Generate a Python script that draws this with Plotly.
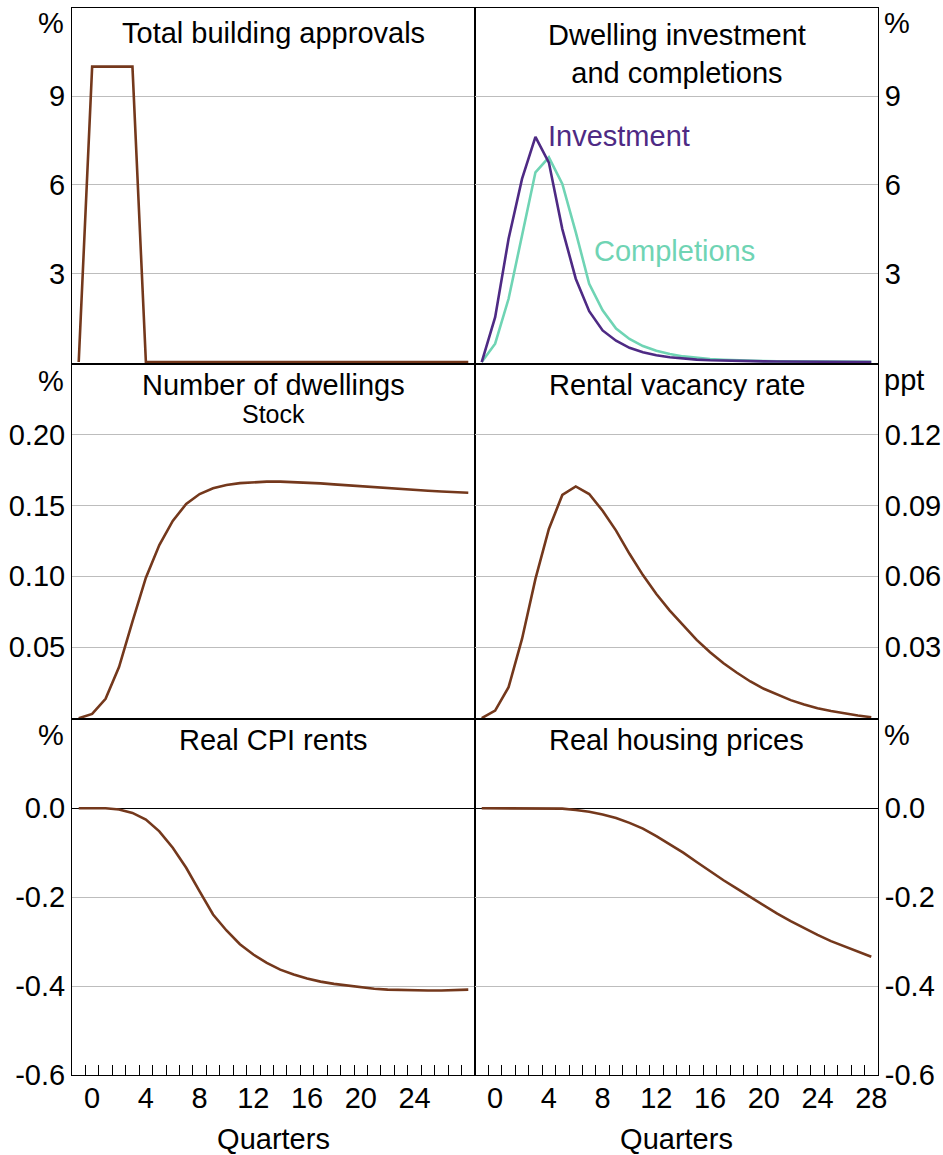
import plotly.graph_objects as go

# ---------------- data (quarters -1 .. 28) ----------------
quarters = list(range(-1, 29))

approvals = [0, 10, 10, 10, 10] + [0] * 25

investment = [0, 1.52, 4.17, 6.2, 7.62, 6.75, 4.5, 2.82, 1.72, 1.07, 0.72, 0.48, 0.33,
              0.23, 0.16, 0.11, 0.08, 0.06, 0.045, 0.035, 0.027, 0.021, 0.016, 0.013,
              0.01, 0.008, 0.006, 0.005, 0.004, 0.003]

completions = [0, 0.62, 2.14, 4.28, 6.42, 6.93, 6.03, 4.4, 2.65, 1.75, 1.13, 0.78, 0.54,
               0.38, 0.27, 0.19, 0.14, 0.1, 0.075, 0.055, 0.04, 0.03, 0.023, 0.017,
               0.013, 0.01, 0.008, 0.006, 0.005, 0.004]

dwellings = [0, 0.003, 0.0136, 0.036, 0.068, 0.099, 0.122, 0.139, 0.151, 0.158, 0.162,
             0.1643, 0.1657, 0.1664, 0.1667, 0.1667, 0.1664, 0.166, 0.1655, 0.1648,
             0.1641, 0.1634, 0.1627, 0.162, 0.1615, 0.1608, 0.1603, 0.1598, 0.1594, 0.1589]

vacancy = [0, 0.0032, 0.0131, 0.0335, 0.0589, 0.080, 0.0944, 0.098, 0.0948, 0.0877,
           0.0793, 0.0695, 0.0605, 0.0525, 0.0455, 0.0392, 0.0331, 0.0279, 0.0232,
           0.0192, 0.0155, 0.0124, 0.0099, 0.0076, 0.0058, 0.0042, 0.003, 0.002,
           0.0011, 0.0004]

rents = [0, 0, 0, -0.003, -0.0105, -0.0255, -0.052, -0.089, -0.134, -0.187, -0.239,
         -0.275, -0.306, -0.329, -0.348, -0.363, -0.374, -0.383, -0.39, -0.395, -0.399,
         -0.403, -0.406, -0.408, -0.409, -0.41, -0.41, -0.41, -0.409, -0.408]

prices = [0, 0, 0, 0, 0, -0.0005, -0.001, -0.004, -0.008, -0.014, -0.022, -0.033,
          -0.046, -0.063, -0.082, -0.1, -0.121, -0.142, -0.162, -0.181, -0.2, -0.219,
          -0.237, -0.254, -0.27, -0.285, -0.299, -0.311, -0.323, -0.334]

x_labels_left = [0, 4, 8, 12, 16, 20, 24]
x_labels_right = [0, 4, 8, 12, 16, 20, 24, 28]
quarter_marks = [q + 0.5 for q in range(-1, 28)]

top_ticks = [3, 6, 9]
dwell_ticks = [0.05, 0.10, 0.15, 0.20]
vac_ticks = [0.03, 0.06, 0.09, 0.12]
bottom_ticks = [-0.6, -0.4, -0.2, 0.0]

# ---------------- styling ----------------
W, H = 943, 1155
FONT = "Arial, Liberation Sans, sans-serif"
FS = 29
BROWN = "#74381C"
PURPLE = "#4E2A84"
TEAL = "#6FD4B4"
GRID = "#BDBDBD"


def px_x(p):
    return p / W


def px_y(p):
    return 1 - p / H


xL = [px_x(72), px_x(475)]
xR = [px_x(475), px_x(878)]
rows = {
    "top": [px_y(363.5), px_y(7.5)],
    "mid": [px_y(719.3), px_y(363.5)],
    "bot": [px_y(1075), px_y(719.3)],
}

fig = go.Figure()

def add_line(x, y, color, idx):
    fig.add_trace(go.Scatter(x=x, y=y, mode="lines", line=dict(color=color, width=2.6),
                             xaxis="x" if idx == 1 else f"x{idx}",
                             yaxis="y" if idx == 1 else f"y{idx}",
                             showlegend=False, hoverinfo="skip"))

add_line(quarters, approvals, BROWN, 1)
add_line(quarters, completions, TEAL, 2)
add_line(quarters, investment, PURPLE, 2)
add_line(quarters, dwellings, BROWN, 3)
add_line(quarters, vacancy, BROWN, 4)
add_line(quarters, rents, BROWN, 5)
add_line(quarters, prices, BROWN, 6)

layout = dict(width=W, height=H, margin=dict(l=0, r=0, t=0, b=0, autoexpand=False),
              paper_bgcolor="white", plot_bgcolor="white",
              font=dict(family=FONT, size=FS, color="black"), showlegend=False)

panels = [
    (1, xL, "top", "left", [-0.05, 12], top_ticks, [str(v) for v in top_ticks]),
    (2, xR, "top", "right", [-0.05, 12], top_ticks, [str(v) for v in top_ticks]),
    (3, xL, "mid", "left", [-0.0008, 0.25], dwell_ticks, [f"{v:.2f}" for v in dwell_ticks]),
    (4, xR, "mid", "right", [-0.0005, 0.15], vac_ticks, [f"{v:.2f}" for v in vac_ticks]),
    (5, xL, "bot", "left", [-0.6, 0.2], bottom_ticks, [f"{v:.1f}" for v in bottom_ticks]),
    (6, xR, "bot", "right", [-0.6, 0.2], bottom_ticks, [f"{v:.1f}" for v in bottom_ticks]),
]

for idx, xd, row, side, yr, yt, ytt in panels:
    xname = "xaxis" if idx == 1 else f"xaxis{idx}"
    yname = "yaxis" if idx == 1 else f"yaxis{idx}"
    xa = dict(domain=xd, range=[-1.5, 28.5], anchor="y" if idx == 1 else f"y{idx}",
              showline=True, mirror=True, linecolor="black", linewidth=1,
              showgrid=False, zeroline=False, ticks="", fixedrange=True, automargin=False)
    if row == "bot":
        labs = x_labels_left if side == "left" else x_labels_right
        xa.update(tickmode="array", tickvals=labs, ticktext=[str(v) for v in labs],
                  showticklabels=True, ticklabelstandoff=-3,
                  tickfont=dict(size=FS),
                  minor=dict(tickmode="array", tickvals=quarter_marks, ticks="inside",
                             ticklen=10, tickwidth=1, tickcolor="black", showgrid=False),
                  title=dict(text="Quarters", font=dict(size=FS), standoff=24))
    else:
        xa.update(showticklabels=False)
    ya = dict(domain=rows[row], range=yr, anchor="x" if idx == 1 else f"x{idx}",
              side=side, showline=True, mirror=True, linecolor="black", linewidth=1,
              tickmode="array", tickvals=yt, ticktext=ytt, ticks="",
              ticklabelstandoff=0, tickfont=dict(size=FS),
              showgrid=True, gridcolor=GRID, gridwidth=1,
              zeroline=(row == "bot"), zerolinecolor="black", zerolinewidth=1,
              fixedrange=True, automargin=False)
    layout[xname] = xa
    layout[yname] = ya

fig.update_layout(**layout)

ann = []

def text_px(t, x, y, xanchor="center", size=FS, color="black"):
    ann.append(dict(text=t, x=px_x(x), y=px_y(y), xref="paper", yref="paper",
                    xanchor=xanchor, yanchor="middle", showarrow=False,
                    font=dict(size=size, color=color, family=FONT)))

# panel titles
text_px("Total building approvals", 273.5, 33)
text_px("Dwelling investment<br>and completions", 676.5, 54)
text_px("Number of dwellings", 273.5, 385)
text_px("Stock", 273.5, 414, size=25)
text_px("Rental vacancy rate", 676.5, 385)
text_px("Real CPI rents", 273.5, 740)
text_px("Real housing prices", 676.5, 740)

# unit labels
text_px("%", 66, 23, xanchor="right")
text_px("%", 882, 23, xanchor="left")
text_px("%", 66, 381, xanchor="right")
text_px("ppt", 882, 380, xanchor="left")
text_px("%", 66, 735, xanchor="right")
text_px("%", 882, 735, xanchor="left")

# series labels (data coordinates of the right-top panel)
ann.append(dict(text="Investment", x=3.8, y=7.66, xref="x2", yref="y2", xanchor="left",
                yanchor="middle", showarrow=False, font=dict(size=FS, color=PURPLE, family=FONT)))
ann.append(dict(text="Completions", x=7.2, y=3.75, xref="x2", yref="y2", xanchor="left",
                yanchor="middle", showarrow=False, font=dict(size=FS, color=TEAL, family=FONT)))

fig.update_layout(annotations=ann)

fig.write_html("out.html",
               config={"displayModeBar": False},
               post_script="document.body.style.margin='0px';document.body.style.padding='0px';")
